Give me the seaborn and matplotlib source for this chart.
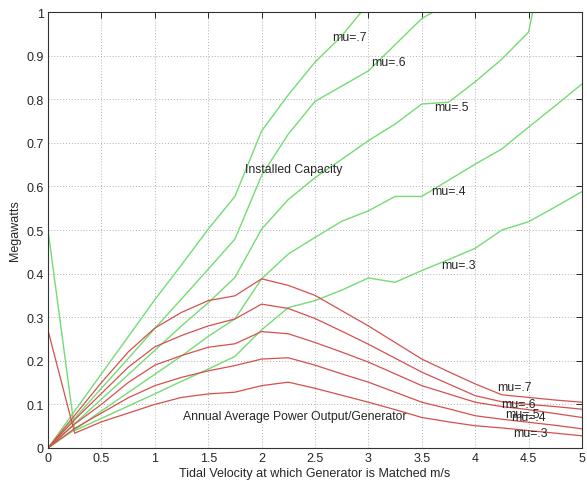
import matplotlib
matplotlib.use("Agg")
import matplotlib.pyplot as plt
import seaborn as sns
import pandas as pd

velocity = [0, 0.25, 0.5, 0.75, 1, 1.25, 1.5, 1.75, 2, 2.25, 2.5, 2.75, 3,
            3.25, 3.5, 3.75, 4, 4.25, 4.5, 4.75, 5]

# Installed capacity (green)
cap_mu7 = [0, 0.085, 0.17, 0.255, 0.34, 0.42, 0.502, 0.577, 0.727, 0.81, 0.885,
           0.945, 1.02, 1.08, 1.14, 1.2, 1.26, 1.32, 1.38, 1.44, 1.5]
cap_mu6 = [0, 0.068, 0.137, 0.205, 0.274, 0.342, 0.41, 0.479, 0.625, 0.72, 0.795,
           0.83, 0.865, 0.925, 0.985, 1.02, 1.06, 1.1, 1.14, 1.18, 1.22]
cap_mu5 = [0, 0.056, 0.112, 0.168, 0.224, 0.28, 0.333, 0.391, 0.502, 0.57, 0.62,
           0.662, 0.705, 0.743, 0.789, 0.793, 0.84, 0.892, 0.954, 1.25, 1.5]
cap_mu4 = [0, 0.042, 0.085, 0.127, 0.169, 0.211, 0.256, 0.296, 0.388, 0.445, 0.483,
           0.52, 0.544, 0.577, 0.577, 0.614, 0.651, 0.686, 0.736, 0.785, 0.835]
cap_mu3 = [0.5, 0.04, 0.068, 0.096, 0.124, 0.153, 0.181, 0.21, 0.271, 0.322, 0.338,
           0.362, 0.39, 0.38, 0.407, 0.432, 0.458, 0.5, 0.519, 0.553, 0.588]

# Annual average power output per generator (red)
out_mu7 = [0, 0.075, 0.15, 0.22, 0.275, 0.311, 0.338, 0.349, 0.388, 0.373, 0.35,
           0.315, 0.28, 0.242, 0.204, 0.175, 0.147, 0.122, 0.116, 0.11, 0.105]
out_mu6 = [0, 0.065, 0.125, 0.185, 0.232, 0.258, 0.28, 0.296, 0.33, 0.32, 0.297,
           0.268, 0.238, 0.206, 0.174, 0.147, 0.12, 0.106, 0.1, 0.095, 0.089]
out_mu5 = [0, 0.055, 0.1, 0.15, 0.19, 0.212, 0.231, 0.239, 0.267, 0.262, 0.242,
           0.22, 0.197, 0.17, 0.143, 0.124, 0.105, 0.095, 0.088, 0.079, 0.07]
out_mu4 = [0, 0.045, 0.08, 0.115, 0.143, 0.162, 0.177, 0.189, 0.204, 0.207, 0.19,
           0.17, 0.151, 0.128, 0.105, 0.09, 0.074, 0.066, 0.059, 0.052, 0.044]
out_mu3 = [0.27, 0.034, 0.06, 0.08, 0.1, 0.116, 0.124, 0.128, 0.143, 0.151, 0.137,
           0.121, 0.105, 0.088, 0.07, 0.06, 0.051, 0.046, 0.04, 0.034, 0.028]

x_ticks = [0, 0.5, 1, 1.5, 2, 2.5, 3, 3.5, 4, 4.5, 5]
x_tick_labels = ["0", "0.5", "1", "1.5", "2", "2.5", "3", "3.5", "4", "4.5", "5"]
y_ticks = [0, 0.1, 0.2, 0.3, 0.4, 0.5, 0.6, 0.7, 0.8, 0.9, 1]
y_tick_labels = ["0", "0.1", "0.2", "0.3", "0.4", "0.5", "0.6", "0.7", "0.8", "0.9", "1"]

cap_labels = ["mu=.7", "mu=.6", "mu=.5", "mu=.4", "mu=.3"]
cap_label_pos = [(2.66, 0.943), (3.03, 0.885), (3.62, 0.783), (3.59, 0.589), (3.68, 0.42)]
out_labels = ["mu=.7", "mu=.6", "mu=.5", "mu=.4", "mu=.3"]
out_label_pos = [(4.21, 0.139), (4.24, 0.102), (4.28, 0.078), (4.34, 0.07), (4.36, 0.034)]

sns.set_style("white")
plt.rcParams['font.family'] = ['Liberation Sans', 'DejaVu Sans']

fig = plt.figure(figsize=(5.87, 4.85), dpi=100)
ax = fig.add_axes([48/587, 1-449/485, (582-48)/587, (449-13)/485])

green = "#74dc74"
red = "#d45050"

caps = [cap_mu7, cap_mu6, cap_mu5, cap_mu4, cap_mu3]
outs = [out_mu7, out_mu6, out_mu5, out_mu4, out_mu3]
for name, ys in zip(cap_labels, caps):
    df = pd.DataFrame({"v": velocity, "mw": ys})
    sns.lineplot(data=df, x="v", y="mw", ax=ax, color=green, linewidth=1.0,
                 sort=False, estimator=None)
for name, ys in zip(out_labels, outs):
    df = pd.DataFrame({"v": velocity, "mw": ys})
    sns.lineplot(data=df, x="v", y="mw", ax=ax, color=red, linewidth=0.9,
                 sort=False, estimator=None)

ax.set_xlim(0, 5)
ax.set_ylim(0, 1)
ax.set_xticks(x_ticks)
ax.set_xticklabels(x_tick_labels, fontsize=9)
ax.set_yticks(y_ticks)
ax.set_yticklabels(y_tick_labels, fontsize=9)
ax.grid(True, linestyle=(0, (1, 2)), color="#b0b0b0", linewidth=0.7)
ax.tick_params(direction="in", length=4, top=True, right=True, width=0.7, pad=3)
for s in ax.spines.values():
    s.set_linewidth(0.8)
    s.set_color("#333333")

ax.set_xlabel("Tidal Velocity at which Generator is Matched m/s", fontsize=9, labelpad=2)
ax.set_ylabel("Megawatts", fontsize=9, labelpad=4)

fs = 8.8
for t, (x, y) in zip(cap_labels, cap_label_pos):
    ax.text(x, y, t, fontsize=fs, va="center", ha="left")
for t, (x, y) in zip(out_labels, out_label_pos):
    ax.text(x, y, t, fontsize=fs, va="center", ha="left")
ax.text(1.84, 0.64, "Installed Capacity", fontsize=fs, va="center", ha="left")
ax.text(1.26, 0.074, "Annual Average Power Output/Generator", fontsize=fs, va="center", ha="left")

fig.savefig("out.png", dpi=100)
